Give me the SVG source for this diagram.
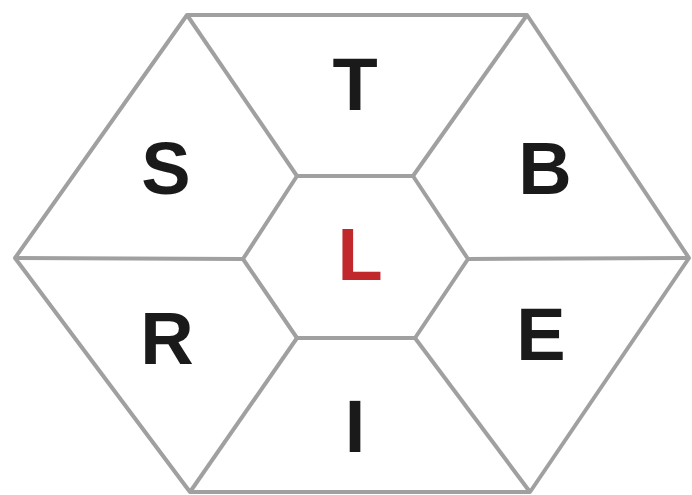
<svg xmlns="http://www.w3.org/2000/svg" width="692" height="495" viewBox="0 0 692 495">
<style>
.ln{stroke:#a0a0a0;stroke-width:4;fill:none;stroke-linejoin:round}
.lb{font-family:"Liberation Sans",Arial,sans-serif;font-weight:bold;font-size:74px;fill:#1a1a1a;text-anchor:middle;dominant-baseline:central}
</style>
<rect width="692" height="495" fill="#fff"/>
<g id="connectors">
<polygon class="ln" points="187,15 527,15 689,258 530,492 190,492 15,258"/>
<polygon class="ln" points="297,176 413,176 468,259 415,338 297,338 243,259"/>
<line class="ln" x1="297" y1="176" x2="187" y2="15"/>
<line class="ln" x1="413" y1="176" x2="527" y2="15"/>
<line class="ln" x1="468" y1="259" x2="689" y2="258"/>
<line class="ln" x1="415" y1="338" x2="530" y2="492"/>
<line class="ln" x1="297" y1="338" x2="190" y2="492"/>
<line class="ln" x1="243" y1="259" x2="15" y2="258"/>
</g>
<g id="T"><text class="lb" x="355" y="84">T</text></g>
<g id="S"><text class="lb" x="166" y="168">S</text></g>
<g id="B"><text class="lb" x="545" y="168">B</text></g>
<g id="L"><text class="lb" x="360" y="254" style="fill:#c0282c">L</text></g>
<g id="R"><text class="lb" x="167" y="338">R</text></g>
<g id="E"><text class="lb" x="541" y="334">E</text></g>
<g id="I"><text class="lb" x="355" y="426">I</text></g>
</svg>
